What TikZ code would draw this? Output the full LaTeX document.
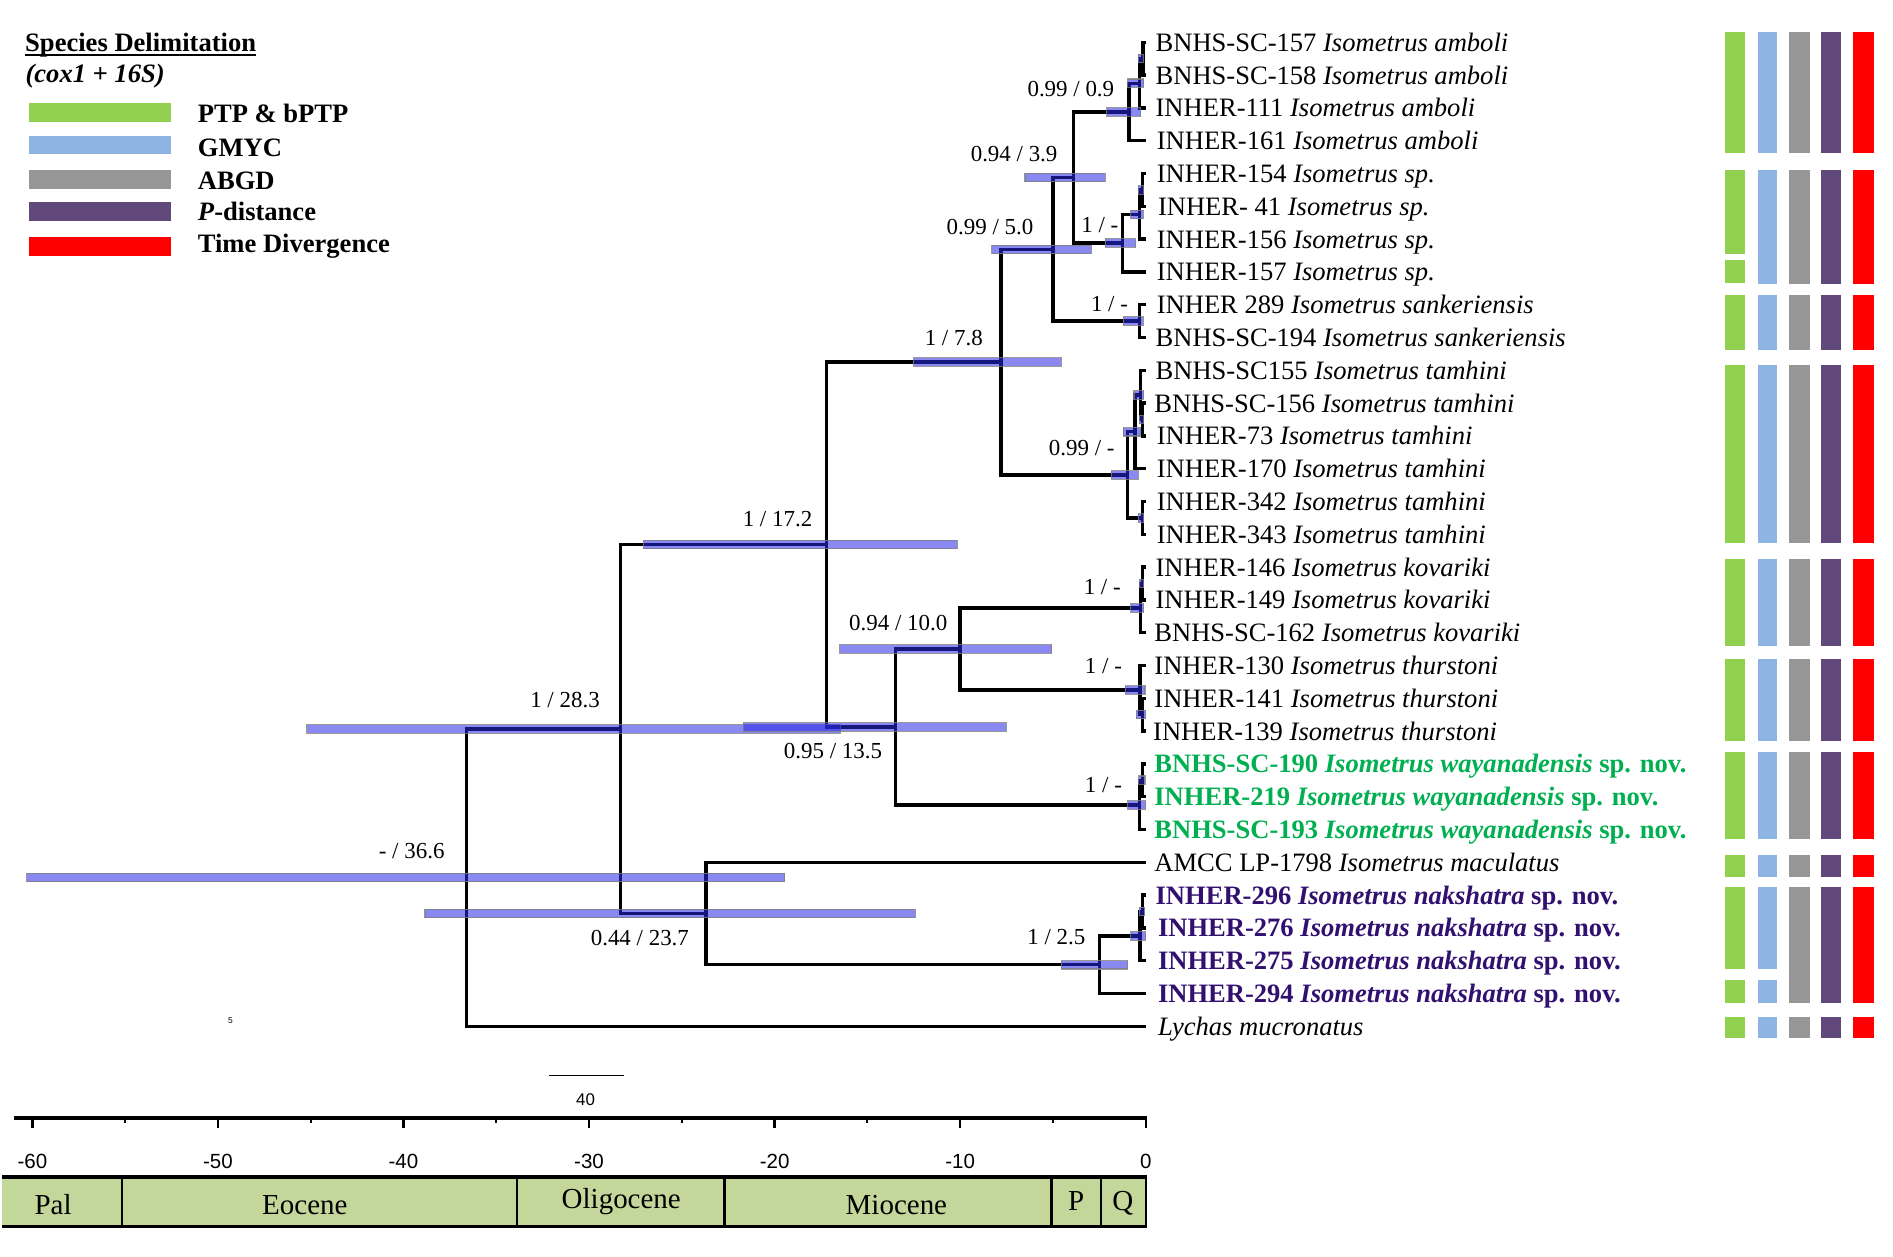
\documentclass[tikz,border=0pt]{standalone}
\usepackage{fontspec}
\setmainfont{Liberation Serif}
\setsansfont{Liberation Sans}
\usetikzlibrary{calc}
\definecolor{ptp}{RGB}{146,208,80}
\definecolor{gmyc}{RGB}{141,180,226}
\definecolor{abgd}{RGB}{150,150,150}
\definecolor{pdist}{RGB}{96,73,122}
\definecolor{tdiv}{RGB}{255,0,0}
\definecolor{epochfill}{RGB}{196,215,155}
\definecolor{waygreen}{RGB}{0,176,80}
\definecolor{nakpurple}{RGB}{50,16,112}
\definecolor{hpdblue}{RGB}{40,40,230}
\newcommand\clade[3]{\draw[brline] (#2) -| (#1) |- (#3);}
\newcommand\hpdbar[3]{\draw[hpd] let \p1=(#1) in (#2pt,\y1+3.5pt) rectangle (#3pt,\y1-3.5pt);}
\begin{document}
\begin{tikzpicture}[x=1pt,y=-1pt,
  brline/.style={line width=2.8pt},
  hpd/.style={fill=hpdblue, fill opacity=0.55, draw=black!50, draw opacity=0.8, line width=0.9pt},
  tiplab/.style={anchor=base west, inner sep=0pt, font=\fontsize{22}{26}\selectfont},
  support/.style={inner sep=0pt, font=\fontsize{19}{22}\selectfont},
  legtxt/.style={anchor=base west, inner sep=0pt, font=\fontsize{22}{26}\selectfont\bfseries},
  epochlab/.style={inner sep=0pt, font=\fontsize{24}{28}\selectfont},
  ticklab/.style={inner sep=0pt, font=\fontsize{17}{20}\selectfont\sffamily}
]
\useasboundingbox (0,0) rectangle (1568,1041);

% ---------- tips ----------
\foreach \i in {1,...,31} \coordinate (t\i) at (949,{35+27.17*(\i-1)});

% ---------- internal nodes ----------
\coordinate (A) at (946.8,48.6);
\coordinate (B) at (944.1,68.95);
\coordinate (C) at (935.2,92.7);
\coordinate (P1) at (946.2,157.3);
\coordinate (P2) at (944.1,177.65);
\coordinate (P) at (929.8,201.4);
\coordinate (D) at (889.1,147.05);
\coordinate (S) at (944.0,265.95);
\coordinate (E) at (872.2,206.5);
\coordinate (T1) at (946.5,347.45);
\coordinate (T2) at (944.5,327.1);
\coordinate (T3) at (940.0,357.65);
\coordinate (T4) at (946.2,429.0);
\coordinate (T) at (933.9,393.3);
\coordinate (F) at (829.1,299.9);
\coordinate (KV1) at (946.5,483.3);
\coordinate (KV) at (944.5,503.7);
\coordinate (TH1) at (946.5,592.0);
\coordinate (TH) at (944.3,571.6);
\coordinate (J) at (795.3,537.65);
\coordinate (W1) at (946.5,646.3);
\coordinate (W) at (944.0,666.7);
\coordinate (K) at (741.5,602.2);
\coordinate (G) at (684.6,451.05);
\coordinate (N1) at (946.5,755.0);
\coordinate (N2) at (944.3,775.4);
\coordinate (N) at (910.6,799.15);
\coordinate (M) at (584.7,756.7);
\coordinate (H) at (514.0,603.9);
\coordinate (R) at (386.5,727.0);

% ---------- branches ----------
\clade{A}{t1}{t2}
\clade{B}{A}{t3}
\clade{C}{B}{t4}
\clade{P1}{t5}{t6}
\clade{P2}{P1}{t7}
\clade{P}{P2}{t8}
\clade{D}{C}{P}
\clade{S}{t9}{t10}
\clade{E}{D}{S}
\clade{T1}{t12}{t13}
\clade{T2}{t11}{T1}
\clade{T3}{T2}{t14}
\clade{T4}{t15}{t16}
\clade{T}{T3}{T4}
\clade{F}{E}{T}
\clade{KV1}{t17}{t18}
\clade{KV}{KV1}{t19}
\clade{TH1}{t21}{t22}
\clade{TH}{t20}{TH1}
\clade{J}{KV}{TH}
\clade{W1}{t23}{t24}
\clade{W}{W1}{t25}
\clade{K}{J}{W}
\clade{G}{F}{K}
\clade{N1}{t27}{t28}
\clade{N2}{N1}{t29}
\clade{N}{N2}{t30}
\clade{M}{t26}{N}
\clade{H}{G}{M}
\clade{R}{H}{t31}

% ---------- HPD bars ----------
\hpdbar{R}{22}{650}
\hpdbar{H}{254}{696}
\hpdbar{M}{352}{758}
\hpdbar{G}{533}{793}
\hpdbar{K}{615.5}{833.6}
\hpdbar{J}{695.5}{871}
\hpdbar{F}{757}{879}
\hpdbar{E}{821.5}{904}
\hpdbar{D}{849}{915.4}
\hpdbar{N}{879}{934}
\hpdbar{C}{916.8}{945}
\hpdbar{P}{915.4}{940.7}
\hpdbar{P2}{936.6}{946.8}
\hpdbar{P1}{943}{947}
\hpdbar{B}{934}{947.5}
\hpdbar{A}{943}{947}
\hpdbar{S}{930.5}{946.8}
\hpdbar{T}{920.5}{942.7}
\hpdbar{T3}{930.5}{945}
\hpdbar{T2}{939.3}{947.5}
\hpdbar{T1}{943.5}{947}
\hpdbar{T4}{942.7}{947.5}
\hpdbar{KV}{936.6}{947.5}
\hpdbar{KV1}{943.5}{947}
\hpdbar{TH}{932}{948.4}
\hpdbar{TH1}{941}{949}
\hpdbar{W}{934}{949}
\hpdbar{W1}{943.3}{948.4}
\hpdbar{N2}{936.4}{949}
\hpdbar{N1}{943.5}{948}

% ---------- support labels ----------
\node[support] (sC) at (887,74) {0.99 / 0.9};
\node[support] (sD) at (840,128) {0.94 / 3.9};
\node[support] (sE) at (820,188) {0.99 / 5.0};
\node[support] (sP) at (911,186) {1 / -};
\node[support] (sS) at (919,252) {1 / -};
\node[support] (sF) at (790,280) {1 / 7.8};
\node[support] (sT) at (896,371) {0.99 / -};
\node[support] (sG) at (644,430) {1 / 17.2};
\node[support] (sKV) at (913,486) {1 / -};
\node[support] (sJ) at (744,516) {0.94 / 10.0};
\node[support] (sTH) at (914,552) {1 / -};
\node[support] (sH) at (468,580) {1 / 28.3};
\node[support] (sK) at (690,622) {0.95 / 13.5};
\node[support] (sW) at (914,650) {1 / -};
\node[support] (sR) at (341,705) {- / 36.6};
\node[support] (sM) at (530,777) {0.44 / 23.7};
\node[support] (sN) at (875,776) {1 / 2.5};

% ---------- tip labels ----------
\node[tiplab] (l1) at ($(t1)+(8,7.5)$) {BNHS-SC-157 \textit{Isometrus amboli}};
\node[tiplab] (l2) at ($(t2)+(8,7.5)$) {BNHS-SC-158 \textit{Isometrus amboli}};
\node[tiplab] (l3) at ($(t3)+(8,7.5)$) {INHER-111 \textit{Isometrus amboli}};
\node[tiplab] (l4) at ($(t4)+(9,7.5)$) {INHER-161 \textit{Isometrus amboli}};
\node[tiplab] (l5) at ($(t5)+(9,7.5)$) {INHER-154 \textit{Isometrus sp.}};
\node[tiplab] (l6) at ($(t6)+(10,7.5)$) {INHER- 41 \textit{Isometrus sp.}};
\node[tiplab] (l7) at ($(t7)+(9,7.5)$) {INHER-156 \textit{Isometrus sp.}};
\node[tiplab] (l8) at ($(t8)+(9,7.5)$) {INHER-157 \textit{Isometrus sp.}};
\node[tiplab] (l9) at ($(t9)+(9,7.5)$) {INHER 289 \textit{Isometrus sankeriensis}};
\node[tiplab] (l10) at ($(t10)+(8,7.5)$) {BNHS-SC-194 \textit{Isometrus sankeriensis}};
\node[tiplab] (l11) at ($(t11)+(8,7.5)$) {BNHS-SC155 \textit{Isometrus tamhini}};
\node[tiplab] (l12) at ($(t12)+(7,7.5)$) {BNHS-SC-156 \textit{Isometrus tamhini}};
\node[tiplab] (l13) at ($(t13)+(9,7.5)$) {INHER-73 \textit{Isometrus tamhini}};
\node[tiplab] (l14) at ($(t14)+(9,7.5)$) {INHER-170 \textit{Isometrus tamhini}};
\node[tiplab] (l15) at ($(t15)+(9,7.5)$) {INHER-342 \textit{Isometrus tamhini}};
\node[tiplab] (l16) at ($(t16)+(9,7.5)$) {INHER-343 \textit{Isometrus tamhini}};
\node[tiplab] (l17) at ($(t17)+(8,7.5)$) {INHER-146 \textit{Isometrus kovariki}};
\node[tiplab] (l18) at ($(t18)+(8,7.5)$) {INHER-149 \textit{Isometrus kovariki}};
\node[tiplab] (l19) at ($(t19)+(7,7.5)$) {BNHS-SC-162 \textit{Isometrus kovariki}};
\node[tiplab] (l20) at ($(t20)+(7,7.5)$) {INHER-130 \textit{Isometrus thurstoni}};
\node[tiplab] (l21) at ($(t21)+(7,7.5)$) {INHER-141 \textit{Isometrus thurstoni}};
\node[tiplab] (l22) at ($(t22)+(6,7.5)$) {INHER-139 \textit{Isometrus thurstoni}};
\node[tiplab, text=waygreen] (l23) at ($(t23)+(7,7.5)$) {\bfseries BNHS-SC-190 \textit{Isometrus wayanadensis} sp. nov.};
\node[tiplab, text=waygreen] (l24) at ($(t24)+(7,7.5)$) {\bfseries INHER-219 \textit{Isometrus wayanadensis} sp. nov.};
\node[tiplab, text=waygreen] (l25) at ($(t25)+(7,7.5)$) {\bfseries BNHS-SC-193 \textit{Isometrus wayanadensis} sp. nov.};
\node[tiplab] (l26) at ($(t26)+(7,7.5)$) {AMCC LP-1798 \textit{Isometrus maculatus}};
\node[tiplab, text=nakpurple] (l27) at ($(t27)+(8,7.5)$) {\bfseries INHER-296 \textit{Isometrus nakshatra} sp. nov.};
\node[tiplab, text=nakpurple] (l28) at ($(t28)+(10,7.5)$) {\bfseries INHER-276 \textit{Isometrus nakshatra} sp. nov.};
\node[tiplab, text=nakpurple] (l29) at ($(t29)+(10,7.5)$) {\bfseries INHER-275 \textit{Isometrus nakshatra} sp. nov.};
\node[tiplab, text=nakpurple] (l30) at ($(t30)+(10,7.5)$) {\bfseries INHER-294 \textit{Isometrus nakshatra} sp. nov.};
\node[tiplab] (l31) at ($(t31)+(10,7.5)$) {\textit{Lychas mucronatus}};

% ---------- species delimitation columns ----------
\foreach \ya/\yb in {26.5/127, 244.5/289.5, 302/450, 463/535, 546/614, 623/695, 708.5/726.5, 842/860}{
  \foreach \c/\xa/\xb in {ptp/1429/1445, gmyc/1456/1472, abgd/1482/1499, pdist/1508/1525, tdiv/1535/1552}
    \fill[\c] (\xa,\ya) rectangle (\xb,\yb);
}
\foreach \c/\xa/\xb in {gmyc/1456/1472, abgd/1482/1499, pdist/1508/1525, tdiv/1535/1552}
  \fill[\c] (\xa,140.5) rectangle (\xb,235);
\fill[ptp] (1429,140.5) rectangle (1445,210);
\fill[ptp] (1429,215.5) rectangle (1445,234);
\foreach \c/\xa/\xb in {abgd/1482/1499, pdist/1508/1525, tdiv/1535/1552}
  \fill[\c] (\xa,735) rectangle (\xb,831);
\foreach \c/\xa/\xb in {ptp/1429/1445, gmyc/1456/1472}{
  \fill[\c] (\xa,735) rectangle (\xb,802.5);
  \fill[\c] (\xa,812) rectangle (\xb,831);
}

% ---------- legend ----------
\node[legtxt] (title) at (20.7,42.8) {Species Delimitation};
\draw[line width=1.4pt] ([yshift=-3pt]title.base west) -- ([yshift=-3pt]title.base east);
\node[legtxt] (subtitle) at (21,68.5) {\bfseries\itshape (cox1 + 16S)};
\fill[ptp] (24,85) rectangle (141.6,101);
\fill[gmyc] (24,112.4) rectangle (141.6,127.8);
\fill[abgd] (24,140.8) rectangle (141.6,156.8);
\fill[pdist] (24,167.3) rectangle (141.6,183.3);
\fill[tdiv] (24,196.3) rectangle (141.6,212.3);
\node[legtxt] (lg1) at (163.7,101.6) {PTP \& bPTP};
\node[legtxt] (lg2) at (163.7,129.4) {GMYC};
\node[legtxt] (lg3) at (163.7,156.6) {ABGD};
\node[legtxt] (lg4) at (163.7,183) {\textit{P}-distance};
\node[legtxt] (lg5) at (163.7,209.4) {Time Divergence};

% ---------- scale bar and stray mark ----------
\draw[line width=1.2pt] (455,891) -- (517,891);
\node[ticklab, font=\fontsize{14}{16}\selectfont\sffamily] (sb) at (485,911) {40};
\node[ticklab, font=\fontsize{7}{8}\selectfont\sffamily] (five) at (191,845.5) {5};

% ---------- time axis ----------
\draw[line width=2.6pt] (12,926) -- (950,926);
\foreach \t in {-60,-50,...,0}{
  \draw[line width=2pt] ({949+15.37*\t},926) -- ++(0,8.5);
  \node[ticklab] at ({949+15.37*\t},962) {\t};
}
\foreach \t in {-55,-45,...,-5}
  \draw[line width=1.6pt] ({949+15.37*\t},926) -- ++(0,4);

% ---------- epochs ----------
\fill[epochfill] (2,975) rectangle (949,1016);
\draw[line width=2.8pt] (2,975) -- (950,975);
\draw[line width=2.8pt] (2,1016) -- (950,1016);
\foreach \x in {101,428,600,871,912,949}
  \draw[line width=2pt] (\x,975) -- (\x,1016);
\node[epochlab] (ep1) at (44,998) {Pal};
\node[epochlab] (ep2) at (252.5,998) {Eocene};
\node[epochlab] (ep3) at (514.6,995.5) {Oligocene};
\node[epochlab] (ep4) at (742.5,998) {Miocene};
\node[epochlab] (ep5) at (891.4,995) {P};
\node[epochlab] (ep6) at (930,996.5) {Q};
\end{tikzpicture}
\end{document}
